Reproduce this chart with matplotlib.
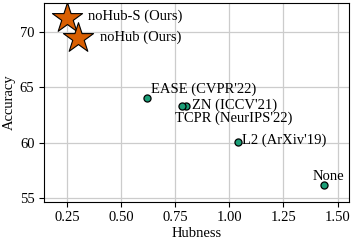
import matplotlib
matplotlib.use("Agg")
import matplotlib.pyplot as plt

methods = ["None", "L2 (ArXiv'19)", "ZN (ICCV'21)", "TCPR (NeurIPS'22)", "EASE (CVPR'22)"]
hubness = [1.435, 1.04, 0.80, 0.78, 0.62]
accuracy = [56.2, 60.1, 63.35, 63.3, 64.0]

ours = ["noHub-S (Ours)", "noHub (Ours)"]
ours_hubness = [0.25, 0.30]
ours_accuracy = [71.25, 69.4]

plt.rcParams["font.family"] = ["Liberation Serif", "DejaVu Serif"]
plt.rcParams["font.size"] = 10.5

fig, ax = plt.subplots(figsize=(3.53, 2.46), dpi=100)
ax.grid(True, color="#cccccc", linewidth=0.9, zorder=0)
ax.set_axisbelow(True)

ax.scatter(hubness, accuracy, s=26, c="#1b9e77", edgecolors="black", linewidths=0.9, zorder=3)
ax.scatter(ours_hubness, ours_accuracy, s=520, marker="*", c="#d95f02",
           edgecolors="black", linewidths=0.8, zorder=4)

# label offsets in points (dx, dy, ha, va)
offsets = {
    "None": (3.5, 1.5, "center", "bottom"),
    "L2 (ArXiv'19)": (3, 1, "left", "center"),
    "ZN (ICCV'21)": (4, 0, "left", "center"),
    "TCPR (NeurIPS'22)": (-5, -4, "left", "top"),
    "EASE (CVPR'22)": (3, 2, "left", "bottom"),
}
for name, x, y in zip(methods, hubness, accuracy):
    dx, dy, ha, va = offsets[name]
    ax.annotate(name, (x, y), xytext=(dx, dy), textcoords="offset points", ha=ha, va=va)

ax.annotate(ours[0], (ours_hubness[0], ours_accuracy[0]), xytext=(15, 1),
            textcoords="offset points", ha="left", va="center")
ax.annotate(ours[1], (ours_hubness[1], ours_accuracy[1]), xytext=(16, 1),
            textcoords="offset points", ha="left", va="center")

ax.set_xlim(0.144, 1.555)
ax.set_ylim(54.7, 72.6)
ax.set_xticks([0.25, 0.50, 0.75, 1.00, 1.25, 1.50])
ax.set_yticks([55, 60, 65, 70])
ax.set_xlabel("Hubness", labelpad=2)
ax.set_ylabel("Accuracy", labelpad=3)

fig.subplots_adjust(left=0.125, right=0.99, top=0.988, bottom=0.18)
fig.savefig("out.png", dpi=100)
